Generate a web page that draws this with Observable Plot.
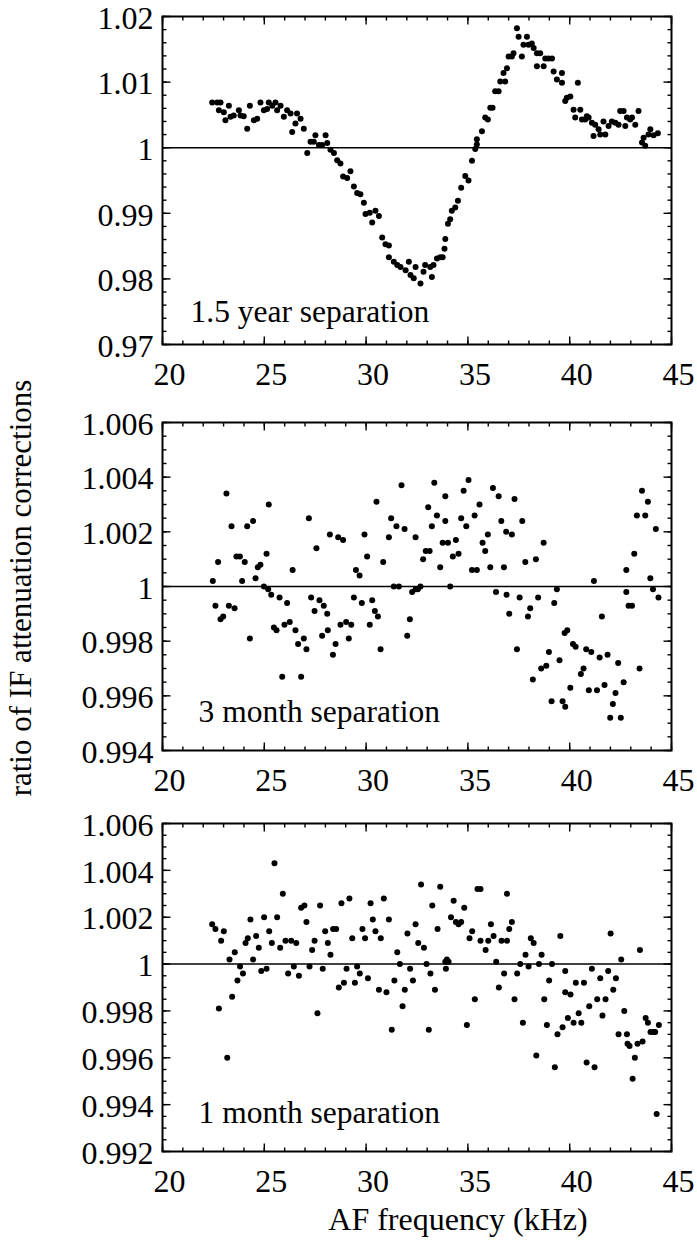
<!DOCTYPE html>
<html>
<head>
<meta charset="utf-8">
<script src="https://cdn.jsdelivr.net/npm/d3@7"></script>
<script src="https://cdn.jsdelivr.net/npm/@observablehq/plot@0.6"></script>
<style>
  html, body { margin: 0; padding: 0; background: #fff; }
  #wrap { position: relative; width: 697px; height: 1251px; overflow: hidden;
          font-family: "Liberation Serif", "Times New Roman", serif; color: #000; }
  .panel { position: absolute; left: 0; }
  #ytitle { position: absolute; width: 600px; height: 36px; line-height: 36px; left: -279px; top: 570px;
            text-align: center; font-size: 31px; transform: rotate(-90deg); transform-origin: 50% 50%; white-space: nowrap; }
  #xtitle { position: absolute; width: 500px; left: 208px; top: 1201px; line-height: 36px;
            text-align: center; font-size: 32px; white-space: nowrap; }
</style>
</head>
<body>
<div id="wrap">
  <div id="p1" class="panel" style="top:0px"></div>
  <div id="p2" class="panel" style="top:406px"></div>
  <div id="p3" class="panel" style="top:807px"></div>
  <div id="ytitle"></div>
  <div id="xtitle"></div>
</div>
<script>
// ---------- data ----------
const xTitle = "AF frequency (kHz)";
const yTitle = "ratio of IF attenuation corrections";
const xDomain = [20, 45];
const xMajorTicks = [20, 25, 30, 35, 40, 45];

const panelLabels = ["1.5 year separation", "3 month separation", "1 month separation"];
const yDomain1 = [0.97, 1.02];
const yDomain2 = [0.994, 1.006];
const yDomain3 = [0.992, 1.006];
const yTicks1 = [0.97, 0.98, 0.99, 1, 1.01, 1.02];
const yTicks2 = [0.994, 0.996, 0.998, 1, 1.002, 1.004, 1.006];
const yTicks3 = [0.992, 0.994, 0.996, 0.998, 1, 1.002, 1.004, 1.006];
const yMinorStep1 = 0.002;
const yMinorStep2 = 0.0005;
const yMinorStep3 = 0.0005;

// 1.5 year separation  [kHz, ratio]
const sep15year = [
[22.44,1.0069],[22.69,1.0069],[22.85,1.0069],[22.77,1.0057],[23.01,1.0054],[23.09,1.0042],[23.26,1.0064],[23.34,1.0047],
[23.50,1.0049],[23.75,1.0057],[23.83,1.0049],[23.99,1.0048],[24.16,1.0029],[24.29,1.0064],[24.49,1.0042],[24.65,1.0044],
[24.81,1.0069],[24.98,1.0057],[25.14,1.0059],[25.22,1.0069],[25.39,1.0064],[25.55,1.0069],[25.63,1.0057],[25.80,1.0064],
[25.96,1.0047],[26.12,1.0057],[26.29,1.0052],[26.37,1.0024],[26.53,1.0037],[26.61,1.0052],[26.78,1.0044],[26.94,1.0029],
[27.11,0.9992],[27.27,1.0009],[27.43,1.0009],[27.51,1.0019],[27.68,1.0004],[27.84,1.0004],[28.01,1.0019],[28.09,1.0007],
[28.25,0.9997],[28.42,0.9992],[28.58,0.9981],[28.74,0.9976],[28.87,0.9956],[29.07,0.9954],[29.23,0.9964],[29.40,0.9941],
[29.56,0.9931],[29.72,0.9929],[29.89,0.9916],[29.97,0.9899],[30.18,0.9901],[30.30,0.9886],[30.46,0.9904],[30.63,0.9896],
[30.79,0.9863],[30.95,0.9853],[31.12,0.9851],[31.12,0.9833],[31.36,0.9826],[31.53,0.9821],[31.69,0.9818],[31.94,0.9813],
[32.10,0.9826],[32.18,0.9806],[32.34,0.9801],[32.43,0.9818],[32.67,0.9793],
[32.82,0.9811],[32.90,0.9821],[33.15,0.9818],[33.23,0.9803],[33.31,0.9821],[33.48,0.9831],[33.64,0.9833],[33.76,0.9833],
[33.85,0.9846],[33.89,0.9861],[34.02,0.9884],[34.13,0.9891],[34.21,0.9904],[34.38,0.9909],[34.51,0.9919],[34.67,0.9939],
[34.87,0.9957],[35.03,0.9950],[35.20,0.9980],[35.36,0.9998],[35.44,1.0005],[35.44,1.0013],[35.69,1.0025],[35.85,1.0046],
[35.98,1.0043],[36.10,1.0061],[36.21,1.0061],[36.34,1.0086],[36.51,1.0086],[36.59,1.0101],[36.83,1.0101],[36.75,1.0114],
[36.92,1.0121],[37.00,1.0139],[37.16,1.0139],[37.24,1.0144],[37.41,1.0182],[37.49,1.0169],[37.65,1.0139],[37.73,1.0157],
[37.90,1.0169],[37.98,1.0157],[38.14,1.0159],[38.23,1.0152],[38.39,1.0144],[38.39,1.0124],[38.55,1.0144],[38.72,1.0124],
[38.80,1.0136],[38.96,1.0136],[39.13,1.0136],[39.21,1.0116],[39.37,1.0104],[39.62,1.0114],[39.62,1.0099],[39.78,1.0071],
[39.86,1.0076],[40.03,1.0078],[40.19,1.0058],[40.27,1.0046],[40.40,1.0099],[40.52,1.0058],[40.60,1.0043],[40.76,1.0043],
[40.84,1.0048],[40.93,1.0046],[41.09,1.0038],[41.17,1.0018],[41.25,1.0035],[41.42,1.0028],[41.50,1.0020],[41.66,1.0040],
[41.75,1.0020],[41.91,1.0033],[42.07,1.0040],[42.24,1.0038],[42.40,1.0035],[42.48,1.0056],[42.65,1.0056],[42.73,1.0033],
[42.81,1.0046],[42.97,1.0043],[43.06,1.0046],[43.22,1.0035],[43.38,1.0056],[43.55,1.0008],[43.63,1.0015],[43.71,1.0003],
[43.87,1.0020],[43.96,1.0028],[44.12,1.0019],[44.33,1.0022]
];

// 3 month separation  [kHz, ratio]
const sep3month = [
[22.47,1.0002],[22.60,0.9993],[22.73,1.0009],[22.85,0.9988],[22.98,0.9989],[23.14,1.0034],[23.26,0.9993],[23.39,1.0022],
[23.54,0.9992],[23.63,1.0011],[23.80,1.0011],[23.91,1.0002],[24.04,1.0009],[24.16,1.0022],[24.29,0.9981],[24.45,1.0024],
[24.57,1.0003],[24.68,1.0007],[24.81,1.0008],[24.98,1.0000],[25.11,1.0012],[25.22,1.0030],[25.19,0.9999],[25.34,0.9997],
[25.47,0.9985],[25.60,0.9984],[25.75,0.9996],[25.88,0.9967],[25.99,0.9986],[26.12,0.9994],[26.39,1.0006],[26.25,0.9987],
[26.53,0.9984],[26.66,0.9979],[26.81,0.9967],[26.94,0.9981],[27.07,0.9977],[27.19,1.0025],[27.30,0.9996],[27.47,0.9991],
[27.56,1.0014],[27.71,0.9995],[27.92,0.9993],[27.84,0.9982],[28.09,0.9990],[28.12,0.9984],[28.22,1.0019],[28.37,0.9975],
[28.50,0.9979],[28.63,1.0018],[28.74,0.9986],[28.87,1.0017],[29.02,0.9987],[29.15,0.9981],[29.27,0.9986],[29.40,0.9996],
[29.50,1.0006],[29.68,1.0004],[29.79,0.9994],[29.92,1.0019],[30.05,1.0011],[30.18,0.9986],[30.30,0.9995],[30.43,0.9991],
[30.58,0.9989],[30.71,0.9977],[30.84,1.0009],[30.51,1.0031],[31.12,1.0018],[31.23,1.0025],[31.36,1.0000],[31.49,1.0022],
[31.61,1.0000],[31.74,1.0037],[31.89,1.0021],[32.02,0.9982],[32.15,0.9988],[32.26,0.9998],[32.43,1.0018],[32.43,0.9999],
[32.54,0.9999],[32.67,1.0000],[32.80,1.0010],[32.93,1.0013],[33.05,1.0029],
[33.12,1.0013],[33.23,1.0022],[33.35,1.0038],[33.48,1.0026],[33.64,1.0007],[33.76,1.0016],[33.89,1.0024],[33.89,1.0033],
[34.02,1.0016],[34.13,1.0000],[34.26,1.0011],[34.41,1.0017],[34.54,1.0012],[34.67,1.0025],[34.79,1.0035],[34.92,1.0022],
[35.03,1.0039],[35.20,1.0006],[35.33,1.0026],[35.44,1.0006],[35.57,1.0030],[35.72,1.0016],[35.85,1.0013],[35.98,1.0019],
[36.10,1.0007],[36.23,1.0036],[36.38,0.9998],[36.51,1.0033],[36.64,1.0024],[36.77,1.0007],[36.90,0.9997],[36.88,1.0020],
[37.03,0.9990],[37.16,1.0019],[37.29,1.0032],[37.41,0.9977],[37.54,0.9996],[37.67,1.0024],[37.82,1.0009],[37.95,0.9989],
[38.06,0.9992],[38.19,0.9966],[38.34,1.0010],[38.45,0.9996],[38.60,0.9970],[38.72,1.0016],[38.85,0.9971],[38.98,0.9976],
[39.11,0.9958],[39.24,0.9994],[39.37,0.9999],[39.50,0.9973],[39.65,0.9958],[39.78,0.9956],[39.75,0.9983],[39.88,0.9984],
[40.03,0.9963],[40.16,0.9979],[40.29,0.9978],[40.55,0.9968],[40.68,0.9970],[40.81,0.9977],[40.94,0.9962],[41.06,0.9976],
[41.19,1.0002],[41.34,0.9962],[41.47,0.9974],[41.58,0.9989],[41.71,0.9964],[41.86,0.9975],[41.99,0.9952],[42.12,0.9957],
[42.25,0.9961],[42.38,0.9972],[42.51,0.9952],[42.65,0.9965],[42.78,1.0006],[42.78,0.9998],[42.89,0.9993],[43.06,0.9993],
[43.17,1.0012],[43.30,1.0026],[43.43,0.9970],[43.55,1.0035],[43.71,1.0026],[43.84,1.0031],[43.96,1.0003],[44.09,0.9999],
[44.23,1.0021],[44.36,0.9996]
];

// 1 month separation  [kHz, ratio]
const sep1month = [
[22.44,1.0017],[22.60,1.0015],[22.77,0.9981],[22.88,1.0010],[23.01,1.0014],[23.18,0.9960],[23.29,1.0002],[23.42,0.9986],
[23.55,1.0005],[23.68,0.9993],[23.81,0.9999],[23.95,0.9996],[24.08,1.0009],[24.19,1.0011],[24.32,1.0019],[24.45,1.0002],
[24.60,1.0012],[24.73,1.0007],[24.85,0.9997],[24.99,1.0020],[25.11,0.9998],[25.24,1.0014],[25.37,1.0009],[25.50,1.0043],
[25.63,1.0020],[25.78,1.0007],[25.91,1.0030],[26.04,1.0010],[26.17,0.9996],[26.32,1.0010],[26.45,0.9999],[26.57,1.0009],
[26.70,0.9995],[26.81,1.0024],[26.97,1.0025],[27.07,1.0018],[27.22,0.9999],[27.35,1.0006],[27.47,1.0010],[27.61,0.9979],
[27.74,1.0025],[27.87,0.9998],[27.99,1.0014],[28.12,1.0009],[28.25,1.0004],[28.38,1.0015],[28.53,1.0015],[28.66,0.9990],
[28.79,1.0026],[28.91,0.9992],[29.04,0.9998],[29.18,1.0028],[29.32,1.0011],[29.45,0.9992],[29.56,0.9999],[29.69,0.9996],
[29.82,1.0015],[29.95,1.0011],[30.09,0.9994],[30.22,1.0026],[30.33,1.0019],[30.46,1.0014],[30.63,0.9989],[30.72,1.0011],
[30.87,1.0028],[31.00,0.9988],[31.12,1.0019],[31.26,0.9972],[31.39,0.9993],[31.53,1.0005],[31.66,1.0000],[31.79,0.9982],
[31.90,0.9989],[32.03,1.0013],[32.16,0.9998],[32.30,0.9993],[32.43,1.0017],[32.56,1.0009],[32.70,1.0034],[32.84,1.0007],
[32.97,1.0000],[33.08,0.9972],[33.16,0.9996],
[33.25,1.0025],[33.38,0.9989],[33.51,1.0015],[33.64,1.0033],[33.89,1.0001],[33.97,1.0002],[34.05,1.0001],[33.92,0.9998],
[34.17,1.0020],[34.30,1.0027],[34.41,1.0018],[34.54,1.0017],[34.67,1.0018],[34.82,1.0024],[34.95,0.9974],[35.08,1.0011],
[35.21,1.0014],[35.34,0.9985],[35.47,1.0032],[35.62,1.0032],[35.62,1.0010],[35.87,1.0006],[36.00,1.0010],[36.13,1.0017],
[36.26,1.0012],[36.39,1.0001],[36.52,0.9990],[36.65,1.0010],[36.78,0.9996],[36.92,1.0010],[36.92,1.0030],[37.03,1.0015],
[37.16,1.0018],[37.29,0.9985],[37.42,0.9996],[37.57,1.0000],[37.70,0.9975],[37.83,1.0004],[37.98,0.9999],[38.09,1.0011],
[38.23,1.0009],[38.36,0.9961],[38.49,1.0000],[38.62,1.0004],[38.75,0.9985],[38.88,0.9974],[38.99,0.9993],[39.13,1.0000],
[39.27,0.9956],[39.40,0.9970],[39.54,1.0012],[39.65,0.9973],[39.78,0.9997],[39.78,0.9988],[39.91,0.9977],[40.04,0.9987],
[40.19,0.9975],[40.30,0.9992],[40.44,0.9979],[40.57,0.9975],[40.70,0.9992],[40.83,0.9958],[40.96,0.9982],[41.09,0.9998],
[41.22,0.9956],[41.35,0.9985],[41.50,0.9994],[41.61,0.9978],[41.76,0.9985],[41.89,0.9997],[42.01,1.0013],[42.14,0.9989],
[42.27,0.9994],[42.40,0.9970],[42.53,1.0002],[42.68,0.9980],[42.81,0.9970],[42.84,0.9966],[42.94,0.9965],[43.09,0.9951],
[43.20,0.9960],[43.33,0.9966],[43.45,1.0006],[43.58,0.9967],[43.73,0.9977],[43.84,0.9975],[43.97,0.9971],[44.10,0.9971],
[44.20,0.9971],[44.27,0.9936],[44.38,0.9974]
];

// ---------- drawing ----------
const FONT = '"Liberation Serif", "Times New Roman", serif';
const W = 697, H = 394;
const M = {top: 16, right: 26, bottom: 50, left: 162};

// inward tick glyphs (length in px)
const tickSym = (dx, dy) => ({ draw(ctx) { ctx.moveTo(0, 0); ctx.lineTo(dx, dy); } });

function minorRange(lo, hi, step) {
  const n = Math.round((hi - lo) / step);
  return d3.range(n + 1).map(i => +(lo + i * step).toFixed(6));
}
const fmtY = d => String(+d.toFixed(4));

function panel(data, yDomain, yTicks, yStep, label, labelDx, labelDy) {
  const xMinor = minorRange(xDomain[0], xDomain[1], 1);
  const yMinor = minorRange(yDomain[0], yDomain[1], yStep);
  const tickStyle = {stroke: "black", strokeWidth: 1.4, fill: "none", r: 3};
  return Plot.plot({
    width: W, height: H,
    marginTop: M.top, marginRight: M.right, marginBottom: M.bottom, marginLeft: M.left,
    style: {fontFamily: FONT, fontSize: "32px", background: "white", color: "black", overflow: "visible"},
    x: {domain: xDomain, label: null},
    y: {domain: yDomain, label: null},
    marks: [
      Plot.ruleY([1], {stroke: "black", strokeWidth: 1.5}),
      // minor / major inward ticks on all four sides
      Plot.dot(yMinor, {y: d => d, frameAnchor: "left", symbol: tickSym(4, 0), ...tickStyle}),
      Plot.dot(yMinor, {y: d => d, frameAnchor: "right", symbol: tickSym(-4, 0), ...tickStyle}),
      Plot.dot(yTicks, {y: d => d, frameAnchor: "left", symbol: tickSym(8, 0), ...tickStyle}),
      Plot.dot(yTicks, {y: d => d, frameAnchor: "right", symbol: tickSym(-8, 0), ...tickStyle}),
      Plot.dot(xMinor, {x: d => d, frameAnchor: "top", symbol: tickSym(0, 4), ...tickStyle}),
      Plot.dot(xMinor, {x: d => d, frameAnchor: "bottom", symbol: tickSym(0, -4), ...tickStyle}),
      Plot.dot(xMajorTicks, {x: d => d, frameAnchor: "top", symbol: tickSym(0, 8), ...tickStyle}),
      Plot.dot(xMajorTicks, {x: d => d, frameAnchor: "bottom", symbol: tickSym(0, -8), ...tickStyle}),
      Plot.axisY({ticks: yTicks, tickSize: 0, tickPadding: 9, tickFormat: fmtY, fontSize: 32, dy: 2, label: null}),
      Plot.axisX({ticks: xMajorTicks, tickSize: 0, tickPadding: 18, tickFormat: d => String(d), fontSize: 32, dx: 7, label: null}),
      Plot.dot(data, {x: d => d[0], y: d => d[1], r: 3, fill: "black", stroke: "none"}),
      Plot.text([label], {frameAnchor: "bottom-left", text: d => d, textAnchor: "start", lineAnchor: "middle",
                          dx: labelDx, dy: labelDy, fontSize: 31.5, fill: "black"}),
      Plot.frame({stroke: "black", strokeWidth: 2})
    ]
  });
}

document.getElementById("p1").append(panel(sep15year, yDomain1, yTicks1, yMinorStep1, panelLabels[0], 28, -33));
document.getElementById("p2").append(panel(sep3month, yDomain2, yTicks2, yMinorStep2, panelLabels[1], 36, -39));
document.getElementById("p3").append(panel(sep1month, yDomain3, yTicks3, yMinorStep3, panelLabels[2], 36, -39));
document.getElementById("ytitle").textContent = yTitle;
document.getElementById("xtitle").textContent = xTitle;
</script>
</body>
</html>
